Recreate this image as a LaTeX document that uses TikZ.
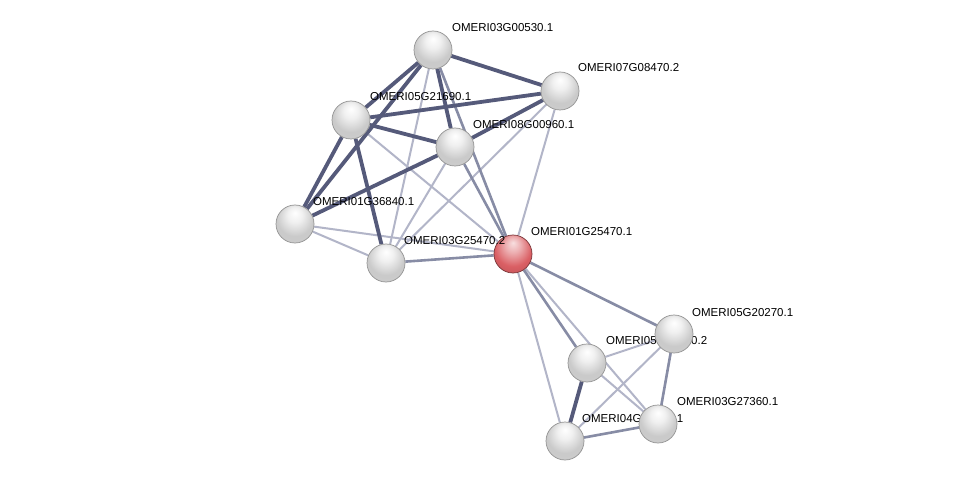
\documentclass[tikz,border=0pt]{standalone}
\usepackage{fontspec}
\setmainfont{Liberation Sans}
\usetikzlibrary{backgrounds}
\definecolor{edgedark}{RGB}{85,90,122}
\definecolor{edgemid}{RGB}{135,140,165}
\definecolor{edgelight}{RGB}{178,181,200}
\definecolor{redball}{RGB}{218,95,100}
\pgfdeclareradialshading{greysphere}{\pgfpoint{0bp}{15bp}}{color(0bp)=(white); color(10bp)=(gray!12); color(24bp)=(gray!42); color(32bp)=(gray!40); color(40bp)=(gray!22); color(50bp)=(gray!22)}
\pgfdeclareradialshading{redsphere}{\pgfpoint{0bp}{15bp}}{color(0bp)=(redball!20!white); color(10bp)=(redball!50!white); color(24bp)=(redball); color(32bp)=(redball!92!black); color(40bp)=(redball!65!white); color(50bp)=(redball!65!white)}
\tikzset{
  protein/.style={circle, minimum size=38pt, inner sep=0pt, draw=gray!85, line width=0.7pt, shade, shading=greysphere},
  query/.style={protein, shading=redsphere, draw=redball!55!black},
  lbl/.style={anchor=west, inner sep=0pt, font=\fontsize{11.5}{13}\selectfont},
  strong/.style={draw=edgedark, line width=3.8pt},
  medium/.style={draw=edgemid, line width=2.6pt},
  weak/.style={draw=edgelight, line width=2pt}
}
\begin{document}
\begin{tikzpicture}[x=1pt, y=-1pt]
        \useasboundingbox (0,0) rectangle (976,486);
        % Upper cluster
        \node[protein] (o03g00530) at (433,50) {};
        \node[protein] (o07g08470) at (560,91) {};
        \node[protein] (o05g21690) at (351,120) {};
        \node[protein] (o08g00960) at (455,147) {};
        \node[protein] (o01g36840) at (295,224) {};
        \node[query] (o01g25470) at (513,254) {};
        \node[protein] (o03g25470) at (386,263) {};
        \node[lbl] (l03g00530) at (452,28) {OMERI03G00530.1};
        \node[lbl] (l07g08470) at (578,68) {OMERI07G08470.2};
        \node[lbl] (l05g21690) at (370,97) {OMERI05G21690.1};
        \node[lbl] (l08g00960) at (473,125) {OMERI08G00960.1};
        \node[lbl] (l01g36840) at (313,202) {OMERI01G36840.1};
        \node[lbl] (l01g25470) at (531,232) {OMERI01G25470.1};
        \node[lbl] (l03g25470) at (404,241) {OMERI03G25470.2};
        % Lower cluster
        \node[protein] (o05g20410) at (587,363) {};
        \node[lbl] (l05g20410) at (606,341) {OMERI05G20410.2};
        \node[protein] (o04g23860) at (565,441) {};
        \node[lbl] (l04g23860) at (582,419) {OMERI04G23860.1};
        \node[protein] (o05g20270) at (674,334) {};
        \node[lbl] (l05g20270) at (692,313) {OMERI05G20270.1};
        \node[protein] (o03g27360) at (658,424) {};
        \node[lbl] (l03g27360) at (677,402) {OMERI03G27360.1};

        % Edges
        \begin{scope}[on background layer]
        \fill[white] (0,0) rectangle (976,486);
        \draw[weak] (o03g00530) -- (o03g25470);
        \draw[weak] (o05g21690) -- (o01g25470);
        \draw[weak] (o08g00960) -- (o03g25470);
        \draw[weak] (o07g08470) -- (o03g25470);
        \draw[weak] (o07g08470) -- (o01g25470);
        \draw[weak] (o01g36840) -- (o03g25470);
        \draw[weak] (o01g36840) -- (o01g25470);
        \draw[medium] (o03g00530) -- (o01g25470);
        \draw[medium] (o08g00960) -- (o01g25470);
        \draw[medium] (o03g25470) -- (o01g25470);
        \draw[strong] (o03g00530) -- (o07g08470);
        \draw[strong] (o03g00530) -- (o05g21690);
        \draw[strong] (o03g00530) -- (o01g36840);
        \draw[strong] (o03g00530) -- (o08g00960);
        \draw[strong] (o05g21690) -- (o07g08470);
        \draw[strong] (o05g21690) -- (o08g00960);
        \draw[strong] (o05g21690) -- (o01g36840);
        \draw[strong] (o05g21690) -- (o03g25470);
        \draw[strong] (o08g00960) -- (o07g08470);
        \draw[strong] (o08g00960) -- (o01g36840);
        \draw[weak] (o01g25470) -- (o03g27360);
        \draw[weak] (o01g25470) -- (o04g23860);
        \draw[weak] (o05g20410) -- (o05g20270);
        \draw[weak] (o05g20410) -- (o03g27360);
        \draw[weak] (o04g23860) -- (o05g20270);
        \draw[medium] (o01g25470) -- (o05g20270);
        \draw[medium] (o01g25470) -- (o05g20410);
        \draw[medium] (o04g23860) -- (o03g27360);
        \draw[medium] (o05g20270) -- (o03g27360);
        \draw[strong] (o05g20410) -- (o04g23860);
        \end{scope}
    \end{tikzpicture}
\end{document}
